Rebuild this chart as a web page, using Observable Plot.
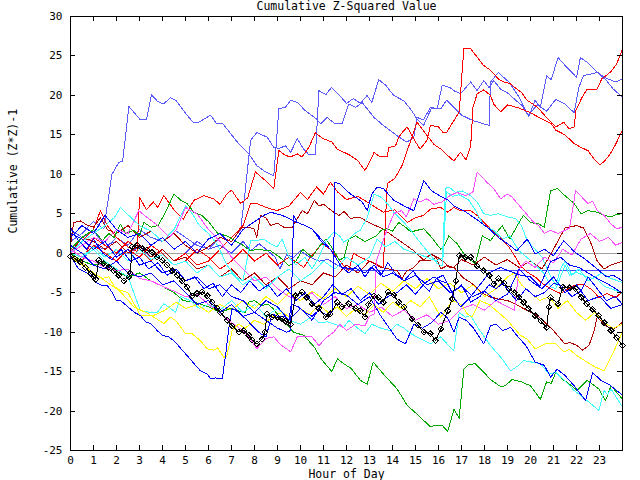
<!DOCTYPE html>
<html><head><meta charset="utf-8">
<script src="https://cdn.jsdelivr.net/npm/d3@7"></script>
<script src="https://cdn.jsdelivr.net/npm/@observablehq/plot@0.6"></script>
<style>body{margin:0;background:#fff}svg{shape-rendering:crispEdges}</style>
</head><body><div id="chart"></div>
<script>
const xTicks = d3.range(0, 24);
const yTicks = d3.range(-25, 31, 5);
const title = "Cumulative Z-Squared Value";
const xLabel = "Hour of Day";
const yLabel = "Cumulative (Z*Z)-1";

const lightBlue1 = [[0,1.5],[0.5,2.5],[1,4],[1.45,3.1],[1.8,10],[2.1,11.5],[2.27,11.7],[2.54,18.6],[3.04,16.9],[3.3,16.9],[3.52,20.1],[3.77,19.3],[4.03,18.9],[4.35,19.7],[4.57,19.4],[5.07,17.5],[5.33,16.6],[5.58,16.6],[6.09,17.5],[6.33,16.5],[6.6,16.5],[7.25,14.1],[7.75,12.6],[8.1,11.1],[8.48,10.3],[8.84,9.8],[8.95,14],[9.06,18.3],[9.35,18.5],[9.57,19.4],[9.86,19.1],[10.2,18.1],[10.7,17],[10.87,16.4],[11.16,17.2],[11.5,16.4],[11.8,16.4],[12.1,18.9],[12.4,18.5],[12.68,19.1],[13.2,17.2],[13.6,16.2],[14.2,14.9],[14.5,14.3],[14.64,14.1],[14.93,14.7],[15.07,17.2],[15.35,16.9],[15.65,18.5],[15.94,18.3],[16.16,21.3],[16.5,21],[16.67,20.6],[16.96,20.2],[17.4,21.7],[17.68,20.6],[17.97,21.9],[18.2,21],[18.4,21.9],[18.7,20.8],[19.06,20.2],[19.35,19.4],[19.64,18.7],[19.93,17.3],[20.2,19.4],[20.43,18.5],[20.7,22.5],[20.9,22],[21.2,24.8],[21.5,23.8],[22,22.3],[22.17,24.8],[22.46,24.2],[22.8,23.2],[23.2,22.3],[23.7,21.7],[24,22.1]];
const lightBlue2 = [[0,0],[0.5,-1],[1,1],[1.5,0.5],[2,2],[2.5,1],[3,3],[3.5,2],[4,1.5],[4.5,3],[5,2],[5.5,1],[6,0.5],[6.5,2],[7,1.5],[7.4,3],[7.6,8],[7.83,14.3],[8.1,15.3],[8.55,14.7],[8.84,13.4],[9.06,13.3],[9.35,13.6],[9.57,12.8],[9.86,14.5],[10.14,13.2],[10.36,12.5],[10.65,12.5],[10.8,20.6],[11.1,20.1],[11.35,21],[11.7,20],[12,19],[12.3,19.6],[12.6,19],[12.9,20],[13.1,19.1],[13.4,22],[13.7,21.3],[14.05,20],[14.5,19.3],[14.8,18.2],[15.07,17],[15.35,16.2],[15.7,18.4],[16.1,18.3],[16.35,19.4],[16.67,18.5],[17,17.5],[17.5,16.8],[18.2,16.2],[18.26,21.7],[18.6,22.9],[19.06,21.7],[19.5,19.8],[19.9,17.5],[20.3,18.8],[20.7,18],[21.1,19.5],[21.5,18.9],[21.9,17.8],[22.1,21],[22.3,22.5],[22.6,22.7],[22.9,22.9],[23.3,21.9],[23.6,20.8],[24,19.8]];
const lightBlue3 = [[0,3],[0.5,2],[1,2.8],[1.5,1],[2,1.5],[2.5,0],[3,0.8],[3.5,-0.5],[4,0.5],[4.5,-1],[5,0],[5.5,1.5],[6,0.5],[6.5,1],[7,0],[7.5,1.5],[7.83,0.3],[8.2,1.2],[8.5,0.5],[8.9,-0.5],[9.1,-2],[9.4,-0.2],[9.7,-0.5],[10,0.3],[10.4,-0.5],[10.8,-1],[11.2,-0.8],[11.6,-1.5],[12,-2],[12.4,-2.2],[24,-2.2]];

const blue1 = [[0,-0.3],[0.2,-1.3],[0.36,-2],[0.8,-2.6],[1.09,-3.7],[1.38,-4.1],[1.6,-4.1],[1.8,-4.9],[2.0,-6],[2.17,-6],[2.42,-6.6],[2.78,-7.5],[3.04,-7.9],[3.26,-8.7],[3.48,-8.9],[3.77,-9.8],[3.99,-10.4],[4.28,-10.6],[4.57,-11.3],[4.86,-12.3],[5.14,-13.2],[5.43,-14.2],[5.65,-14.9],[5.94,-15.3],[6.09,-15.9],[6.3,-15.8],[6.6,-15.9],[6.74,-13],[6.88,-9.6],[7.03,-7],[7.32,-7.5],[7.68,-8.5],[7.97,-9.4],[8.26,-10.2],[8.5,-10.6],[8.77,-7.7],[9.0,-8],[9.3,-8],[9.5,-8.5],[9.6,-6.4],[9.9,-6.8],[10.2,-7.5],[10.5,-8],[10.8,-7.2],[11.1,-7.8],[11.4,-7.3],[11.5,9],[11.7,8.8],[12.17,7.5],[12.5,6.9],[12.68,6.5],[12.9,5.4],[13.1,7.5],[13.33,8.4],[13.6,8.2],[14.06,6.7],[14.5,6],[14.93,5.4],[15.36,9.2],[15.7,7.9],[16.16,7.1],[16.4,6.8],[16.67,6],[17.2,5.2],[17.7,4.2],[18.2,3.1],[18.6,2],[19,1.2],[19.4,0.3],[19.86,1.8],[20.2,-0.1],[20.6,0.5],[21,-0.3],[21.45,1.6],[21.9,0.2],[22.4,-0.8],[22.9,-2],[23.3,-3],[23.6,-2.8],[24,-3.5]];
const blue2 = [[0,2.5],[0.5,1.8],[1,0.5],[1.5,1.5],[2,-0.5],[2.5,0.5],[3,-1.5],[3.5,-1],[4,-2.5],[4.5,-2],[5,-3.5],[5.5,-3],[6,-4.5],[6.5,-4],[7,-5.5],[7.5,-6],[8,-7.5],[8.5,-8.5],[9,-9.5],[9.4,-10],[9.57,-9.8],[9.7,4.8],[9.86,3.9],[10.2,3.5],[10.5,3.1],[10.9,1.5],[11.3,0.5],[11.8,-1.8],[12.1,-1.9],[12.45,-2],[12.8,-2.5],[13.2,-1.5],[13.6,-3],[14,-2.5],[14.5,-3.5],[15,-2.8],[15.5,-4],[16,-3.5],[16.5,-5],[17,-4.2],[17.5,-5.5],[18,-4.8],[18.5,-6],[19,-5.2],[19.5,-2],[20,-3.5],[20.5,-4.5],[21,-3],[21.5,-5],[22,-4],[22.5,-6],[23,-5.5],[23.5,-7],[24,-6.5]];
const blue3 = [[0,1],[0.5,0],[1,-1.5],[1.5,-2],[2,-1],[2.5,-2.5],[3,-3],[3.5,-2.5],[4,-4],[4.5,-3.5],[5,-5],[5.5,-6.5],[6,-6],[6.5,-7.5],[7,-6.5],[7.5,-8],[8,-7.5],[8.5,-6],[9,-6.8],[9.5,-8.5],[10,-7],[10.5,-8.5],[11,-6],[11.5,-5],[12,-5.3],[12.5,-6.5],[13,-5.5],[13.5,-8],[14.2,-10.9],[14.56,-11.5],[14.93,-9],[15.3,-9.5],[15.7,-8.8],[16.1,-7.5],[16.4,-8.2],[16.67,-10],[16.9,-8.1],[17.2,-8.5],[17.5,-9.4],[17.97,-11.5],[18.26,-9.2],[18.5,-9],[18.8,-9.8],[19.13,-9.4],[19.4,-10.4],[19.8,-11.7],[20.2,-13.8],[20.6,-14.2],[20.87,-15.7],[21.16,-14.7],[21.5,-15.5],[21.9,-16.8],[22.4,-18.7],[22.7,-15.1],[23.05,-16.1],[23.4,-16.6],[24,-18]];
const blue4 = [[0,3.3],[0.3,1.8],[0.7,0.5],[1,1.8],[1.4,0],[1.8,-0.8],[2.2,0.5],[2.6,-1],[3,-0.5],[3.4,-2],[3.8,-1.2],[4.2,-2.8],[4.6,-2],[5,-3.5],[5.4,-3],[5.8,-4.5],[6.2,-3.8],[6.6,-5.5],[7,-4],[7.4,-5],[7.8,-3.5],[8.2,-4.8],[8.6,-4],[9,-5.5],[9.4,-4.5],[9.8,-6],[10.2,-5],[10.6,-6.5],[11,-5.5],[11.4,-4],[11.8,-5.2],[12.2,-4.5],[12.6,-6],[13,-5],[13.4,-6.5],[13.8,-5.5],[14.2,-5],[14.6,-4],[15,-5.2],[15.4,-3.8],[15.8,-3],[16.1,-3.5],[16.4,-3.8],[16.67,-5.6],[16.96,-6.8],[17.4,-5.5],[17.8,-4],[18.2,-2.5],[18.7,-1.8],[19.1,-2.3],[19.6,-2.8],[20,-3],[20.4,-4.2],[20.87,-1.1],[21.3,-0.5],[21.7,-1.5],[22.1,-1.8],[22.5,-2.5],[22.9,-3.2],[23.3,-3.8],[23.7,-4.5],[24,-5.1]];
const blue5 = [[0,2],[0.5,3.5],[1,2.5],[1.5,4.8],[2,3],[2.5,2],[3,2.5],[3.5,1],[4,2],[4.5,0.5],[5,1.5],[5.5,0],[6,1.8],[6.5,2.5],[7,1],[7.5,3],[8,4],[8.4,4.8],[8.7,5.2],[9.2,4.8],[9.86,3.9],[10.2,3.5],[10.5,3.1],[10.9,1.8],[11.3,0.5],[11.8,-1.8],[12.1,-2.5],[12.5,-1.5],[12.8,-3],[13.1,-1.8],[13.5,-2.8],[13.8,-1.2],[14.1,-2.5],[14.5,-3.5],[14.9,-2.2],[15.3,-4],[15.6,-4.8],[15.9,-3.2],[16.2,-2.8],[16.6,-5],[17,-4],[17.4,-6.2],[17.8,-5.5],[18.2,-4],[18.5,-4.5],[18.8,-3.8],[19.1,-5],[19.4,-6],[19.8,-4.5],[20.2,-5.5],[20.6,-5],[21,-3.8],[21.4,-4.2],[21.8,-5.5],[22.2,-4.8],[22.5,-3],[22.9,-4.5],[23.3,-6],[23.7,-5.5],[24,-6.5]];

const redTop = [[0,0.3],[0.5,1.5],[1.0,3],[1.3,5.4],[1.6,3.5],[2.0,2],[2.5,0.8],[2.9,0.2],[3.0,7.1],[3.3,5.5],[3.6,6.5],[3.8,5.8],[4.06,7.3],[4.5,5.5],[4.9,4.3],[5.36,6.7],[5.8,7.3],[6.23,6.9],[6.5,6.2],[6.8,7.5],[7.0,8],[7.4,6.3],[7.7,7],[8.04,10.3],[8.4,9.4],[8.84,8.2],[8.98,11.3],[9.06,13],[9.35,12.4],[9.57,12.2],[9.86,12.6],[10.07,12.2],[10.36,13.4],[10.65,15.3],[10.8,14.9],[11.0,14.5],[11.36,14.1],[11.6,13.2],[11.88,12.8],[12.17,12.4],[12.5,11.7],[12.8,10.5],[13.0,11.5],[13.2,12.8],[13.45,12.2],[13.77,12.2],[13.84,13.4],[14.13,13.6],[14.27,14.7],[14.42,15.3],[14.64,16],[15.0,14.1],[15.2,13.2],[15.5,14.3],[15.65,16.2],[16.0,16],[16.2,15.3],[16.35,15.3],[16.9,17.9],[17.1,25.9],[17.4,25.9],[17.96,23.8],[18.26,23.2],[18.6,22.1],[18.84,21.7],[19.1,21.5],[19.6,20.4],[19.85,19.4],[20.3,18.5],[20.7,17.2],[21.1,16],[21.45,16.6],[21.67,15.8],[21.9,16],[21.97,18.1],[22.25,19.8],[22.46,20.8],[22.9,20.8],[23.1,22.1],[23.5,23],[23.75,24],[24,25.9]];
const red2 = [[0,0.5],[0.5,-0.5],[1,1],[1.5,0],[2,-1],[2.5,0.5],[3,-0.5],[3.5,1],[4,0],[4.5,-1.5],[5,-1],[5.5,0.5],[6,-0.5],[6.5,-2],[7,-1],[7.5,0.5],[8,-1],[8.5,0],[9,-1.5],[9.5,-0.5],[10.14,-1.8],[10.43,-0.5],[10.94,1.2],[11.3,0.5],[11.6,-0.5],[11.88,-1.6],[12.1,-2.2],[12.3,0],[12.6,-0.5],[13,-1],[13.6,-1.8],[13.77,8.8],[14.1,9.5],[14.4,11],[14.7,13.5],[15.07,16.6],[15.4,15.3],[15.8,13.8],[16.1,13.2],[16.35,12.5],[16.67,11.7],[16.96,12.8],[17.2,11.8],[17.4,13.6],[17.5,18.5],[17.68,20.2],[17.97,20.7],[18.26,20],[18.4,18.9],[18.7,17.9],[19.0,18.8],[19.5,18.4],[20,17.8],[20.5,17],[20.9,16.4],[21.1,15.6],[21.5,15],[21.9,13.9],[22.2,13.4],[22.5,13],[22.75,12],[23.0,11.2],[23.2,11.6],[23.45,12.5],[23.7,13.8],[24,15.6]];
const red3 = [[0,0],[0.5,-1],[1,2],[1.5,1],[2,0],[2.5,1.5],[3,0.5],[3.5,-1],[4,0.5],[4.5,-1],[5,0],[5.5,-1.5],[6,-1],[6.5,0.5],[7,2],[7.5,3.5],[7.83,6.3],[8.1,6.3],[8.5,5.8],[8.98,5.4],[9.5,6],[10,7.7],[10.3,6.8],[10.7,8.4],[11,7.5],[11.3,9],[11.6,7.8],[12,6.8],[12.5,7.2],[13,6.3],[13.6,5.2],[14.1,5.5],[14.64,3.9],[15,4.5],[15.36,4.8],[15.65,5.6],[16.1,5.8],[16.4,5.2],[16.67,5.8],[16.96,5.4],[17.4,5.4],[17.68,4.8],[17.97,3.9],[18.4,2.7],[18.77,1.8],[19.06,0.8],[19.35,-0.5],[19.56,-1.6],[19.86,-2.4],[20.2,-3],[20.5,-3.8],[20.87,-4.5],[21.3,-5.1],[21.9,-4.1],[22.3,-3.9],[22.7,-4.7],[22.97,-5.6],[23.33,-5.1],[23.7,-5.6],[24,-4.9]];

const darkRed1 = [[0,1],[0.14,3.9],[0.43,4.1],[0.7,3.6],[1.0,3.3],[1.3,4.5],[1.6,3],[2,2.5],[2.5,3.5],[3,2],[3.5,2.8],[4,1.5],[4.5,2.5],[5,1],[5.5,0],[6,0.8],[6.5,2],[7,1.5],[7.46,3.3],[7.7,3.3],[7.97,3.1],[8.1,2],[8.26,4.8],[8.5,4.5],[8.7,3.5],[9,3.8],[9.27,3.3],[9.64,3.3],[10.07,5.4],[10.3,5],[10.6,6.7],[10.8,6],[11,6.2],[11.45,5.2],[11.67,4.8],[11.9,5.3],[12.17,4.4],[12.55,4.6],[12.9,4],[13.26,3.5],[13.5,3.2],[13.77,2.7],[14.2,1.8],[14.6,1],[14.93,0.3],[15.36,-0.9],[15.65,-0.1],[16.0,-0.6],[16.23,-1.1],[16.5,-1.8],[16.67,-1.8],[17.1,-3.2],[17.4,-3.7],[17.83,-4.9],[18.2,-5.5],[18.6,-5.8],[19,-6],[19.3,-6.4],[19.56,-6.8],[20.3,-7.9],[20.94,-9.6],[21.23,-10.6],[21.5,-11.5],[21.7,-11.3],[22.03,-11.7],[22.25,-12.3],[22.54,-11.7],[22.75,-10],[22.9,-8.1],[23.2,-9],[23.5,-9.6],[23.75,-9.4],[24,-8.7]];
const darkRed2 = [[0,0],[0.5,2],[1,1.5],[1.5,0.5],[2,1.5],[2.5,0],[3,1],[3.5,-0.5],[4,0.5],[4.5,-1],[5,-0.5],[5.5,-2],[6,-1.5],[6.5,-3],[7,-2],[7.5,-3.5],[8,-2.5],[8.5,-4],[9,-3],[9.5,-4.5],[10,-3.5],[10.5,-4],[11,-2.5],[11.5,-3],[12,-1.5],[12.5,-2.5],[13,-1],[13.5,-1.8],[14.2,-2.2],[14.42,-3.2],[14.6,-2.3],[14.93,-1.8],[15.2,-0.9],[15.65,-0.9],[15.9,-0.5],[16.1,-2],[16.35,-1.6],[16.67,-1.8],[17,-0.8],[17.5,-1.5],[18,-0.5],[18.5,-1.5],[19,-0.8],[19.5,-1.8],[20,-1],[20.5,-2],[21,0.5],[21.5,3.2],[22,3.5],[22.3,3.2],[22.6,1.5],[22.9,-1],[23.2,-2],[23.5,-1.5],[24,-1]];

const green1 = [[0,0],[0.5,-1],[1,-1.5],[1.5,-1.2],[2,-2.3],[2.5,-3],[3,-2.5],[3.5,-3.5],[4,-4.2],[4.5,-5],[4.9,-6],[5.5,-6.3],[6,-6.8],[6.5,-7.5],[6.96,-7],[7.3,-7.3],[7.6,-7.5],[7.75,-6.2],[8.0,-6.0],[8.3,-6.6],[8.6,-6.5],[8.8,-7],[9.1,-8.1],[9.7,-10],[10.14,-10.4],[10.6,-11.9],[10.9,-13.4],[11.36,-15],[11.6,-13.4],[11.88,-14],[12.2,-14.6],[12.6,-16.1],[12.9,-16.6],[13.16,-13.8],[13.6,-15.3],[14.2,-17.2],[14.64,-19.3],[15.07,-20.4],[15.65,-22],[15.9,-21.8],[16.16,-21.8],[16.4,-22.6],[16.67,-19.8],[16.9,-20.9],[17.1,-14.7],[17.3,-14.1],[17.6,-14],[17.97,-15.1],[18.3,-16.1],[18.7,-16.9],[18.9,-16.8],[19.2,-16],[19.6,-16.3],[20,-16.8],[20.43,-18.5],[20.7,-16.3],[20.9,-16.5],[21.1,-15.1],[21.4,-16],[21.7,-16.6],[22.03,-17.4],[22.46,-16.1],[22.97,-17.2],[23.26,-18.7],[23.5,-16.8],[24,-18.5]];
const green2 = [[0,0.5],[0.5,2],[1,3],[1.38,1.6],[1.67,2.5],[1.9,2],[2.17,3.7],[2.4,2.5],[2.75,2.9],[3,2.2],[3.19,3.9],[3.5,3.3],[3.8,3.5],[4.06,4.8],[4.5,7.5],[4.8,6.7],[5.07,6.3],[5.36,5.2],[5.7,4.8],[6,4],[6.4,2.5],[6.8,2.2],[7.2,1.5],[7.5,1],[7.83,0.3],[8.1,0.5],[8.7,0.3],[9.1,-0.5],[9.5,-1.6],[9.8,-1],[10.1,0.5],[10.5,-0.5],[10.8,0.8],[11.1,1.8],[11.3,1],[11.7,-0.9],[11.9,-0.5],[12.1,1.8],[12.4,2.2],[12.8,1.5],[13.3,2.2],[13.5,2.9],[13.77,3.1],[14.0,2.8],[14.27,3.9],[14.56,3.3],[14.8,2.7],[15.07,2.9],[15.36,3.1],[15.7,2],[16.1,0.5],[16.3,1.2],[16.45,2.2],[16.81,1.2],[17.2,-0.5],[17.6,-1.3],[17.9,2.2],[18.26,1.6],[18.5,2.5],[18.77,3.5],[19.1,1.8],[19.5,3.9],[19.7,4.8],[20,3.9],[20.36,3.7],[20.6,3.3],[20.87,7.9],[21.16,8.2],[21.5,7.3],[21.9,6.3],[22.2,5],[22.5,5.4],[22.9,5.2],[23.2,4.8],[23.5,4.6],[23.7,4.9],[24,5]];

const cyan1 = [[0,0],[0.5,1.5],[1,2.5],[1.5,3.5],[1.9,4.5],[2.17,5.8],[2.6,4.6],[3,3.5],[3.5,2.8],[4,1.5],[4.5,3],[5,6],[5.3,5],[5.6,3.5],[6,2.5],[6.4,1],[6.8,-1.5],[7.2,-3],[7.5,-3.5],[7.83,1.6],[8.1,1.6],[8.4,1.8],[8.7,1.2],[8.98,0.8],[9.2,1.8],[9.5,-0.5],[9.8,-1.5],[10.2,-0.5],[10.5,-2],[10.8,-0.5],[11.1,1.5],[11.45,2.7],[11.7,2.2],[11.88,1.4],[12.1,1.8],[12.4,2.6],[12.6,2.9],[12.9,4.5],[13.2,7.5],[13.5,7.1],[13.77,6.3],[14.06,5.2],[14.5,3.9],[14.8,2.9],[15.14,1.6],[15.5,0.3],[15.94,-1.3],[16.16,-1.6],[16.3,8.2],[16.45,8.4],[16.74,7.7],[17.03,7.9],[17.4,7.3],[17.68,6.5],[17.97,5],[18.26,4.8],[18.6,5],[19,4.6],[19.35,4.4],[19.6,3.5],[19.86,1.6],[20.2,0.5],[20.5,-0.5],[20.8,-2.5],[21.1,-4.1],[21.3,-2],[21.5,-1],[21.8,-2.8],[22.1,-2],[22.5,-3.5],[22.8,-3],[23.2,-4.2],[23.6,-4.6],[24,-5.1]];
const cyan2 = [[0,0.5],[0.5,-0.5],[1,0.8],[1.5,-0.5],[2,0.5],[2.5,-1],[3,0.5],[3.5,-0.8],[4,-0.2],[4.5,-1.5],[5,-1],[5.5,-2.5],[6,-1.5],[6.5,-3],[7,-2.5],[7.5,-4],[8,-3],[8.5,-4.5],[9,-3],[9.5,-2],[10,-3.5],[10.5,-2.5],[11,-1],[11.5,-2],[12,-0.5],[12.5,-1.5],[13,-0.5],[13.33,1.8],[13.7,0.8],[14.1,1.5],[14.5,0.5],[15,0],[15.5,-0.5],[15.9,-1],[16.2,-0.5],[16.35,7.8],[16.6,7.2],[16.9,7.4],[17.3,6.8],[17.6,5.5],[17.97,3.5],[18.4,2.9],[18.8,1.8],[19.1,2.2],[19.5,0.3],[20,-0.9],[20.6,-2.6],[20.9,-4.3],[21.1,-4.5],[21.5,-1.5],[21.7,-2.8],[22,-2.4],[22.3,-2.8],[22.7,-3.2],[23.1,-2.5],[23.5,-3.2],[24,-3.7]];
const cyan3 = [[0,0],[0.5,-0.5],[1,0.5],[1.5,-1],[2,-2],[2.5,-3],[3.04,-7.3],[3.48,-7.5],[3.77,-7.5],[4.06,-6.4],[4.35,-7],[4.57,-7.5],[4.8,-5.5],[5.2,-6],[5.6,-7],[6,-6.5],[6.5,-7.2],[7,-6],[7.5,-7.5],[8,-6.5],[8.5,-8],[9,-7],[9.5,-8.5],[10,-9],[10.5,-8],[10.8,-8.8],[11.16,-8.7],[11.5,-9],[11.88,-9.4],[12.1,-8.5],[12.45,-9.4],[12.8,-10.2],[13.1,-9],[13.5,-9.5],[13.9,-9.8],[14.2,-9],[14.5,-9.5],[14.8,-10.2],[15.2,-10.8],[15.65,-11.5],[16.1,-10.6],[16.5,-11.9],[16.67,-12.3],[16.9,-7.5],[17.17,-8.1],[17.4,-7.9],[17.75,-9.6],[18.26,-11.7],[18.77,-13.4],[19.13,-14.9],[19.5,-14.2],[19.7,-13.6],[20.07,-13.8],[20.43,-14],[20.8,-15.3],[21.1,-15.1],[21.5,-16.2],[21.9,-17.4],[22.3,-18.3],[22.97,-19.9],[23.2,-17.4],[23.35,-17.9],[23.5,-17.2],[24,-19.5]];

const magenta1 = [[0,0.5],[0.5,-0.5],[1,-1],[1.5,-1.8],[2,-2.2],[2.5,-2],[3,-3.2],[3.5,-3.5],[4,-4.2],[4.5,-4.8],[5,-5.5],[5.5,-5.2],[6,-6.5],[6.5,-7.5],[7,-8.8],[7.5,-9.8],[7.8,-10.8],[8.1,-12.1],[8.5,-10.8],[8.84,-10.6],[9.1,-11.5],[9.57,-12.5],[9.86,-10.6],[10.2,-10.6],[10.5,-10.6],[10.8,-11.7],[11.16,-10.6],[11.45,-10],[11.7,-9],[12,-9.8],[12.4,-9],[12.8,-9.2],[13.0,-8],[13.2,-7.7],[13.3,-1],[13.45,0.3],[13.7,2.5],[14.06,5],[14.2,5.2],[14.4,5.4],[14.6,4.6],[14.93,6.9],[15.2,6.5],[15.5,6.9],[15.8,6.2],[16.16,6.5],[16.5,7.3],[16.8,7.7],[17.2,7.3],[17.5,7.8],[17.68,10.3],[17.85,9.8],[18.1,9],[18.4,8.2],[18.7,6.9],[19,7.5],[19.2,7.1],[19.64,5.6],[20.14,3.9],[20.36,3.5],[20.6,2.5],[20.87,2.9],[21.2,2.5],[21.5,2.9],[21.7,3.2],[21.96,7.9],[22.17,7.3],[22.5,6.3],[22.7,6.6],[22.9,5.4],[23.2,4.8],[23.5,3.7],[23.75,3.1],[24,3.3]];
const magenta2 = [[0,0],[0.5,1],[1,2],[1.5,1.5],[2,3],[2.5,2.5],[2.97,5.4],[3.3,4.6],[3.8,3.5],[4.3,2],[4.6,3],[5.0,5.8],[5.5,5],[6,3],[6.5,1.5],[7,-0.5],[7.5,-2],[8,-3.5],[8.5,-3],[9,-4.5],[9.5,-5.5],[10,-6],[10.5,-5],[11,-6.5],[11.5,-5.5],[12,-7],[12.5,-6.5],[13,-7.5],[13.5,-6.8],[14,-8],[14.5,-7.2],[15,-8.5],[15.5,-7.8],[16,-9],[16.5,-8.5],[17,-7],[17.5,-6.5],[18,-7.2],[18.5,-6],[19,-6.8],[19.3,-7.2],[19.5,-2],[19.8,-1],[20.2,-1.8],[20.6,-0.5],[21,-1.2],[21.4,0.5],[21.8,-0.2],[22.2,1.8],[22.6,2.5],[23,1.5],[23.4,2],[23.7,1],[24,1.4]];

const yellow1 = [[0,-0.3],[0.5,-1.1],[0.87,-2.2],[1.16,-2.8],[1.38,-3.2],[1.67,-3.0],[1.88,-4.1],[2.17,-4.9],[2.46,-5.8],[2.75,-6.8],[3.12,-7.3],[3.4,-7.7],[4.06,-8.9],[4.35,-8.1],[4.6,-8.6],[5,-10.2],[5.29,-10.2],[5.65,-11.1],[5.94,-12.1],[6.23,-12.3],[6.4,-12.0],[6.67,-13.2],[6.8,-13],[7.03,-9.8],[7.3,-9],[7.6,-9.5],[8,-8.5],[8.4,-9],[8.8,-8],[9.2,-7.5],[9.6,-8.2],[10,-7],[10.4,-7.8],[10.8,-6.5],[11.2,-7.5],[11.6,-6.8],[12,-8],[12.4,-7],[12.8,-7.8],[13.2,-6.5],[13.6,-7.5],[14,-6.2],[14.4,-7],[14.8,-6],[15.2,-6.8],[15.6,-5.5],[16.1,-8.1],[16.3,-7.3],[16.6,-6],[17,-6.5],[17.25,-7.7],[17.46,-8.1],[17.8,-6],[18.2,-6.5],[18.6,-7.5],[19.0,-8.5],[19.2,-9.2],[19.56,-10.4],[19.86,-10.9],[20.2,-12.1],[20.65,-11.5],[21.1,-11.5],[21.45,-12.5],[21.7,-12.2],[22.03,-13],[22.46,-13.8],[22.8,-14.4],[23.2,-14.9],[23.5,-13.2],[24,-10]];
const yellow2 = [[0,-0.5],[0.5,-1.5],[1,-2.5],[1.5,-3.5],[2,-4.5],[2.5,-5],[3.04,-7.9],[3.6,-7.9],[4.06,-7.3],[4.6,-6.2],[5,-7],[5.5,-6.5],[6,-7.5],[6.5,-6.5],[7,-7.2],[7.5,-6],[8,-7],[8.5,-5.5],[9,-6.5],[9.5,-5],[10,-6],[10.5,-4.8],[11,-5.8],[11.5,-4.5],[12,-5.5],[12.5,-4.2],[13,-5.2],[13.5,-3.8],[14,-4.8],[14.5,-3.5],[15,-4.5],[15.5,-3.2],[16,-4.5],[16.5,-3.8],[17,-5],[17.5,-4],[18,-5.5],[18.5,-4.5],[19,-3],[19.3,-2.5],[19.6,-4],[20,-5],[20.4,-6],[20.8,-5.5],[21.2,-7],[21.6,-6],[22,-7.5],[22.4,-8.5],[22.8,-7.5],[23.2,-8.8],[23.6,-9.5],[24,-9]];

const black = [[0,-0.4],[0.2,-0.7],[0.43,-1.1],[0.65,-1.8],[0.87,-2.6],[1.0,-3.0],[1.1,-3.3],[1.23,-0.9],[1.45,-1.3],[1.67,-1.8],[1.88,-2.2],[2.1,-2.8],[2.32,-3.5],[2.54,-3.0],[2.6,-2.5],[2.68,0.8],[2.9,1.0],[3.12,0.6],[3.33,0.4],[3.55,0.1],[3.77,-0.5],[3.99,-0.9],[4.2,-1.5],[4.42,-2.2],[4.64,-2.8],[4.86,-3.5],[5.07,-4.3],[5.29,-5.4],[5.5,-5.1],[5.73,-4.9],[5.95,-5.4],[6.16,-6.2],[6.37,-6.9],[6.52,-7.5],[6.81,-8.5],[7.03,-9.2],[7.32,-10],[7.54,-9.8],[7.75,-10.4],[7.9,-11],[8.1,-11.5],[8.33,-10.9],[8.45,-10],[8.55,-7.7],[8.77,-8.1],[9.0,-8.1],[9.2,-8.3],[9.35,-8.6],[9.57,-9.0],[9.78,-5.4],[10.07,-4.9],[10.28,-5.6],[10.5,-6.4],[10.8,-7.0],[11.1,-8.1],[11.3,-7.7],[11.6,-6.2],[11.8,-6.8],[12.1,-6.4],[12.4,-7.0],[12.6,-7.3],[12.8,-8.1],[12.95,-6.5],[13.2,-5.4],[13.4,-5.6],[13.6,-6.2],[13.8,-4.9],[14.05,-5.3],[14.27,-6.2],[14.5,-6.8],[14.85,-8.3],[15.1,-9.1],[15.36,-10],[15.65,-10.2],[15.87,-11.1],[16.1,-9.6],[16.4,-7.3],[16.6,-5.8],[16.75,-3.5],[16.9,-0.3],[17.17,-0.5],[17.4,-0.5],[17.68,-1.6],[17.95,-2.2],[18.2,-2.8],[18.4,-3.9],[18.6,-3.2],[18.85,-3.8],[19.06,-4.5],[19.3,-5],[19.5,-5.6],[19.7,-6.2],[19.9,-7],[20.2,-7.9],[20.45,-8.6],[20.7,-9.4],[20.8,-6.8],[20.87,-5.6],[21.2,-6.4],[21.4,-4.3],[21.7,-4.4],[21.96,-4.5],[22.2,-5.6],[22.45,-6.4],[22.7,-7.1],[22.97,-7.9],[23.2,-8.8],[23.5,-9.8],[23.75,-10.7],[24,-11.7]];

const series = [
  {data: lightBlue1, color: "#5a5aff"}, {data: lightBlue2, color: "#5a5aff"}, {data: lightBlue3, color: "#4848ff"},
  {data: redTop, color: "#ff0000"}, {data: red2, color: "#ff0000"}, {data: red3, color: "#ff0000"},
  {data: darkRed1, color: "#b00000"}, {data: darkRed2, color: "#b00000"},
  {data: green1, color: "#00a800"}, {data: green2, color: "#00a800"},
  {data: cyan1, color: "#40ffff"}, {data: cyan2, color: "#40ffff"}, {data: cyan3, color: "#40ffff"},
  {data: magenta1, color: "#ff50ff"}, {data: magenta2, color: "#ff50ff"},
  {data: yellow1, color: "#ffff00"}, {data: yellow2, color: "#ffff00"},
  {data: blue1, color: "#0000ff"}, {data: blue2, color: "#0000ff"}, {data: blue3, color: "#0000ff"},
  {data: blue4, color: "#0000ff"}, {data: blue5, color: "#0000ff"}
];

const font = "'DejaVu Sans Mono', monospace";
const chart = Plot.plot({
  width: 640, height: 480,
  marginLeft: 70, marginRight: 18, marginTop: 16, marginBottom: 30,
  style: {fontFamily: font, fontSize: "11px", color: "black", background: "white"},
  x: {domain: [0, 24]},
  y: {domain: [-25, 30]},
  marks: [
    Plot.ruleY([0], {stroke: "#a0a0a0"}),
    ...series.map(s => Plot.line(s.data, {x: d => d[0], y: d => d[1], stroke: s.color, strokeWidth: 1})),
    Plot.line(black, {x: d => d[0], y: d => d[1], stroke: "black", strokeWidth: 1}),
    Plot.dot(black, {x: d => d[0], y: d => d[1], symbol: "diamond2", r: 2.6, stroke: "black", strokeWidth: 1, fill: "none"}),
    Plot.frame({stroke: "black"}),
    Plot.tickX(xTicks, {x: d => d, stroke: "black", insetTop: 429}),
    Plot.tickX(xTicks, {x: d => d, stroke: "black", insetBottom: 429}),
    Plot.tickY(yTicks, {y: d => d, stroke: "black", insetRight: 547}),
    Plot.tickY(yTicks, {y: d => d, stroke: "black", insetLeft: 547}),
    Plot.axisX({ticks: xTicks, tickSize: 0, tickPadding: 6, tickFormat: d => String(d), label: null}),
    Plot.axisY({ticks: yTicks, tickSize: 0, tickPadding: 8, tickFormat: d => String(d), label: null}),
    Plot.text([title], {frameAnchor: "top", lineAnchor: "middle", dy: -10, text: d => d, fontFamily: font, fontSize: 11.5}),
    Plot.text([xLabel], {frameAnchor: "bottom", lineAnchor: "middle", dy: 24, text: d => d, fontFamily: font, fontSize: 11.5}),
    Plot.text([yLabel], {frameAnchor: "left", lineAnchor: "middle", dx: -57, rotate: -90, text: d => d, fontFamily: font, fontSize: 11.5})
  ]
});
document.getElementById("chart").appendChild(chart);
</script>
</body></html>
